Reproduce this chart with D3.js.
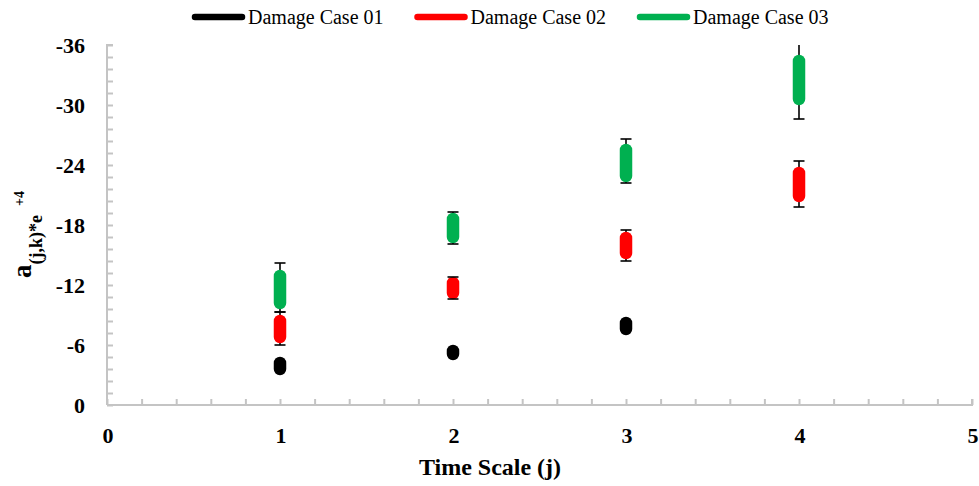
<!DOCTYPE html>
<html>
<head>
<meta charset="utf-8">
<script src="https://cdn.jsdelivr.net/npm/d3@7"></script>
<style>
  html, body { margin: 0; padding: 0; background: #fff; }
  svg { display: block; }
</style>
</head>
<body>
<svg id="chart" width="979" height="486" font-family="'Liberation Serif', 'Times New Roman', Times, 'DejaVu Serif', serif"></svg>
<script>
// ---- Data ----
const seriesNames = ["Damage Case 01", "Damage Case 02", "Damage Case 03"];
const seriesColors = ["#000000", "#ff0000", "#00b050"];
const timeScale = [1, 2, 3, 4];
// range (thick bar) endpoints per series
const case01Low  = [-3.6, -5.1, -7.6];
const case01High = [-4.2, -5.4, -8.2];
const case02Low  = [-6.8, -11.2, -15.2, -20.9];
const case02High = [-8.4, -12.2, -16.7, -23.2];
const case03Low  = [-10.2, -16.8, -22.9, -30.6];
const case03High = [-12.9, -18.6, -25.5, -34.4];
// error bars
const case02ErrLow  = [-6.0, -10.6, -14.4, -19.8];
const case02ErrHigh = [-9.3, -12.8, -17.5, -24.4];
const case03ErrLow  = [-9.3, -16.1, -22.2, -28.6];
const case03ErrHigh = [-14.2, -19.3, -26.6, -37.5];
const xTicks = [0, 1, 2, 3, 4, 5];
const yTicks = [0, -6, -12, -18, -24, -30, -36];

const series = [
  { name: seriesNames[0], color: seriesColors[0], low: case01Low, high: case01High, errLow: null, errHigh: null },
  { name: seriesNames[1], color: seriesColors[1], low: case02Low, high: case02High, errLow: case02ErrLow, errHigh: case02ErrHigh },
  { name: seriesNames[2], color: seriesColors[2], low: case03Low, high: case03High, errLow: case03ErrLow, errHigh: case03ErrHigh }
];

const FONT = "'Liberation Serif', 'Times New Roman', Times, 'DejaVu Serif', serif";

// ---- Layout ----
const svg = d3.select("#chart");
const x = d3.scaleLinear().domain([0, 5]).range([107, 972]);
const y = d3.scaleLinear().domain([0, -36]).range([405, 45]);

svg.append("defs").append("clipPath").attr("id", "plotClip")
  .append("rect").attr("x", x(0)).attr("y", y(-36)).attr("width", x(5) - x(0)).attr("height", y(0) - y(-36));

const axisColor = "#c4c4c4";

// Y axis (ticks inside)
const yMinor = d3.range(0, 31).map(i => -i * 1.2);
const yAxis = svg.append("g").attr("transform", `translate(${x(0)},0)`)
  .call(d3.axisRight(y).tickValues(yMinor).tickSize(6).tickFormat(""));
yAxis.selectAll("path, line").attr("stroke", axisColor).attr("stroke-width", 2);
yAxis.select("path").attr("d", `M6,${y(-36)}H0V${y(0)}`);

// X axis (ticks inside)
const xMinor = d3.range(0, 26).map(i => i * 0.2);
const xAxis = svg.append("g").attr("transform", `translate(0,${y(0)})`)
  .call(d3.axisTop(x).tickValues(xMinor).tickSize(6).tickFormat(""));
xAxis.selectAll("path, line").attr("stroke", axisColor).attr("stroke-width", 2);
xAxis.select("path").attr("d", `M${x(0)},0H${x(5)}V-6`);

// Tick labels
svg.append("g").selectAll("text").data(yTicks).join("text")
  .attr("font-family", FONT)
  .attr("x", 85).attr("y", d => y(d)).attr("dy", "0.35em")
  .attr("text-anchor", "end").attr("font-size", 22).attr("font-weight", "bold")
  .text(d => d);

svg.append("g").selectAll("text").data(xTicks).join("text")
  .attr("font-family", FONT)
  .attr("x", d => x(d) + 1).attr("y", 443)
  .attr("text-anchor", "middle").attr("font-size", 22).attr("font-weight", "bold")
  .text(d => d);

// Axis titles
svg.append("text").attr("font-family", FONT).attr("x", 490).attr("y", 475).attr("text-anchor", "middle")
  .attr("font-size", 24).attr("font-weight", "bold").text("Time Scale (j)");

const yl = svg.append("text").attr("font-family", FONT).attr("transform", "translate(31,278) rotate(-90)")
  .attr("font-weight", "bold");
yl.append("tspan").attr("font-size", 27).text("a");
yl.append("tspan").attr("font-size", 18).attr("dy", 11).text("(j,k)*e");
yl.append("tspan").attr("font-size", 14).attr("dy", -18).attr("dx", 9).text("+4");

// ---- Marks ----
const plot = svg.append("g").attr("clip-path", "url(#plotClip)");

series.forEach(s => {
  const pts = s.low.map((v, i) => ({ x: timeScale[i], low: v, high: s.high[i],
    eLow: s.errLow ? s.errLow[i] : null, eHigh: s.errHigh ? s.errHigh[i] : null }));
  const g = plot.append("g");
  const withErr = pts.filter(p => p.eLow !== null);
  // error stems (behind)
  g.selectAll("line.stem").data(withErr).join("line").attr("class", "stem")
    .attr("x1", d => x(d.x)).attr("x2", d => x(d.x))
    .attr("y1", d => y(d.eLow)).attr("y2", d => y(d.eHigh))
    .attr("stroke", "#000").attr("stroke-width", 1.6);
  // capsules
  g.selectAll("line.bar").data(pts).join("line").attr("class", "bar")
    .attr("x1", d => x(d.x)).attr("x2", d => x(d.x))
    .attr("y1", d => y(d.low)).attr("y2", d => y(d.high))
    .attr("stroke", s.color).attr("stroke-width", 12.5).attr("stroke-linecap", "round");
  // caps
  const caps = [];
  withErr.forEach(p => { caps.push({ x: p.x, v: p.eLow }); caps.push({ x: p.x, v: p.eHigh }); });
  g.selectAll("line.cap").data(caps).join("line").attr("class", "cap")
    .attr("x1", d => x(d.x) - 5.5).attr("x2", d => x(d.x) + 5.5)
    .attr("y1", d => y(d.v)).attr("y2", d => y(d.v))
    .attr("stroke", "#000").attr("stroke-width", 1.6);
});

// ---- Legend ----
const legend = svg.append("g");
const leg = legend.selectAll("g").data(series).join("g")
  .attr("transform", (d, i) => `translate(${195 + i * 222.5},17)`);
leg.append("line").attr("x1", 0).attr("x2", 47).attr("y1", 0).attr("y2", 0)
  .attr("stroke", d => d.color).attr("stroke-width", 6.5).attr("stroke-linecap", "round");
leg.append("text").attr("font-family", FONT).attr("x", 53).attr("y", 6.5).attr("font-size", 20).text(d => d.name);
</script>
</body>
</html>
